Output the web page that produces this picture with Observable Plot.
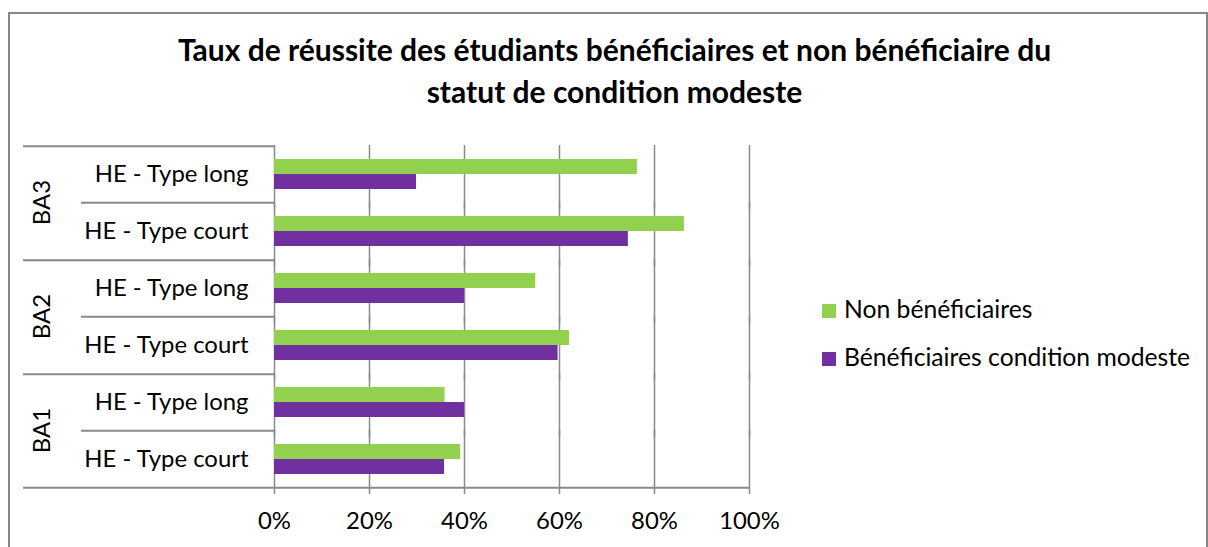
<!DOCTYPE html>
<html><head><meta charset="utf-8">
<script src="https://cdn.jsdelivr.net/npm/d3@7"></script>
<script src="https://cdn.jsdelivr.net/npm/@observablehq/plot@0.6"></script>
<style>
body{margin:0;background:#fff;}
#wrap{position:relative;width:1208px;height:547px;overflow:hidden;font-family:Lato,sans-serif;color:#000;}
#wrap svg{position:absolute;left:0;top:0;}
#border{position:absolute;left:8px;top:12px;width:1196px;height:600px;border:2px solid #888;border-bottom:none;pointer-events:none;z-index:3;}
#title{position:absolute;left:0;width:1229px;top:28px;text-align:center;font-weight:bold;font-size:30px;line-height:42px;z-index:2;white-space:nowrap;}
.leg{position:absolute;left:822px;font-size:24.7px;line-height:25px;white-space:nowrap;z-index:2;}
.leg span{display:inline-block;width:14px;height:14px;margin-right:8px;}
</style></head>
<body>
<div id="wrap">
  <div id="border"></div>
  <div id="title"></div>
  <div id="legend"></div>
</div>
<script>
const titleLines = ["Taux de réussite des étudiants bénéficiaires et non bénéficiaire du", "statut de condition modeste"];
const groups = ["BA3", "BA3", "BA2", "BA2", "BA1", "BA1"];
const types = ["HE - Type long", "HE - Type court", "HE - Type long", "HE - Type court", "HE - Type long", "HE - Type court"];
const series = ["Non bénéficiaires", "Bénéficiaires condition modeste"];
const colors = ["#92D050", "#7030A0"];
const nonBeneficiaires = [0.764, 0.863, 0.550, 0.621, 0.359, 0.392];
const beneficiaires = [0.299, 0.745, 0.400, 0.597, 0.400, 0.358];
const xTicks = [0, 0.2, 0.4, 0.6, 0.8, 1];
const tickLabels = ["0%", "20%", "40%", "60%", "80%", "100%"];

const rowKeys = groups.map((g, i) => g + " | " + types[i]);
const table = [];
rowKeys.forEach((k, i) => {
  table.push({row: k, group: groups[i], type: types[i], series: series[0], value: nonBeneficiaires[i], idx: i});
  table.push({row: k, group: groups[i], type: types[i], series: series[1], value: beneficiaires[i], idx: i});
});

const W = 1208, H = 547, mL = 274, mR = 459, mT = 144, mB = 59;
const rowH = (H - mT - mB) / rowKeys.length;
const barH = 16;
const off = rowH / 2 - barH / 2;
const plotW = W - mL - mR;
const gridColor = "#8a8a8a";

const isLong = d => d.type === types[0];

const chart = Plot.plot({
  width: W, height: H,
  marginLeft: mL, marginRight: mR, marginTop: mT, marginBottom: mB,
  style: {fontFamily: "Lato, sans-serif", fontSize: "23.9px", color: "#000", background: "transparent", overflow: "visible"},
  facet: {data: table, y: "row"},
  fy: {domain: rowKeys, axis: null, padding: 0},
  y: {domain: series, axis: null, paddingInner: 0, paddingOuter: (rowH - 2 * barH) / (2 * barH)},
  x: {domain: [0, 1], ticks: xTicks, tickFormat: d => tickLabels[xTicks.indexOf(d)], tickSize: 0, tickPadding: 25, label: null},
  color: {domain: series, range: colors},
  marks: [
    Plot.ruleX(xTicks, {stroke: gridColor, strokeWidth: 1.5, insetBottom: -7}),
    Plot.barX(table, {x: "value", y: "series", fill: "series"}),
    Plot.text(table, {filter: d => d.series === series[0], text: "type", frameAnchor: "left", dx: -26, textAnchor: "end", lineAnchor: "middle"}),
    Plot.text(table, {filter: d => d.series === series[0] && isLong(d), text: "group", frameAnchor: "bottom-left", dx: -232.5, rotate: -90, textAnchor: "middle", lineAnchor: "middle"}),
    Plot.ruleY(table, {filter: d => d.series === series[0] && isLong(d), y: "series", dy: -off, insetLeft: -(mL - 23), insetRight: plotW, stroke: gridColor, strokeWidth: 2}),
    Plot.ruleY(table, {filter: d => d.series === series[1] && isLong(d), y: "series", dy: off, insetLeft: -(mL - 81), insetRight: plotW, stroke: gridColor, strokeWidth: 2}),
    Plot.ruleY(table, {filter: d => d.series === series[1] && d.idx === rowKeys.length - 1, y: "series", dy: off, insetLeft: -(mL - 23), insetRight: 0, stroke: gridColor, strokeWidth: 2})
  ]
});
document.getElementById("wrap").appendChild(chart);

document.getElementById("title").innerHTML = titleLines.join("<br>");
const legend = document.getElementById("legend");
series.forEach((s, i) => {
  const d = document.createElement("div");
  d.className = "leg";
  d.style.top = (296 + i * 48) + "px";
  d.innerHTML = `<span style="background:${colors[i]}"></span>${s}`;
  legend.appendChild(d);
});
</script>
</body></html>
